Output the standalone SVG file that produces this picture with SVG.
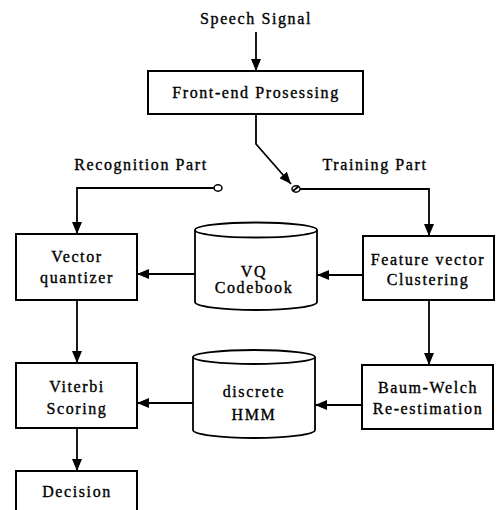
<svg xmlns="http://www.w3.org/2000/svg" width="498" height="510" viewBox="0 0 498 510">
  <defs>
    <marker id="arrow" viewBox="0 0 12 10" refX="12" refY="5" markerWidth="12" markerHeight="10" markerUnits="userSpaceOnUse" orient="auto">
      <path d="M0,0 L12,5 L0,10 Z" fill="#000"/>
    </marker>
    <style>
      .box { fill: #fff; stroke: #000; stroke-width: 2; }
      .cyl { fill: #fff; stroke: #000; stroke-width: 1.8; }
      .lbl { font-family: "Liberation Serif", "Times New Roman", serif; font-size: 16px; letter-spacing: 1.6px; fill: #000; stroke: #000; stroke-width: 0.35px; text-anchor: middle; }
      .wire { fill: none; stroke: #000; stroke-width: 1.8; }
      .arr { fill: none; stroke: #000; stroke-width: 1.8; marker-end: url(#arrow); }
      .sw { fill: #fff; stroke: #000; stroke-width: 1.5; }
    </style>
  </defs>

  <!-- input and branch labels -->
  <text class="lbl" x="256" y="24">Speech Signal</text>
  <text class="lbl" x="141" y="170">Recognition Part</text>
  <text class="lbl" x="375" y="170">Training Part</text>

  <g id="connectors">
    <line class="arr" x1="256" y1="32" x2="256" y2="71"/>
    <polyline class="arr" points="256,114 256,144 291,184"/>
    <!-- recognition branch -->
    <polyline class="arr" points="214,188 77,188 77,234"/>
    <!-- training branch -->
    <polyline class="arr" points="300,189 429,189 429,236"/>
    <line class="arr" x1="363" y1="275" x2="317" y2="275"/>
    <line class="arr" x1="195" y1="274" x2="137" y2="274"/>
    <line class="arr" x1="77" y1="300" x2="77" y2="363"/>
    <line class="arr" x1="429" y1="300" x2="429" y2="365"/>
    <line class="arr" x1="362" y1="405" x2="315" y2="405"/>
    <line class="arr" x1="193" y1="403" x2="137" y2="403"/>
    <line class="arr" x1="77" y1="428" x2="77" y2="471"/>
  </g>

  <!-- switch contacts -->
  <g id="switch-recognition">
    <ellipse class="sw" cx="218" cy="188" rx="4" ry="3.2"/>
  </g>
  <g id="switch-training">
    <ellipse class="sw" cx="296" cy="189" rx="4" ry="3.2"/>
    <line class="wire" x1="293" y1="191" x2="299" y2="186" stroke-width="1.2"/>
  </g>

  <g id="front-end">
    <rect class="box" x="148" y="71" width="215" height="43"/>
    <text class="lbl" x="256" y="98">Front-end Prosessing</text>
  </g>

  <g id="vector-quantizer">
    <rect class="box" x="16" y="234" width="121" height="66"/>
    <text class="lbl" x="77" y="262">Vector</text>
    <text class="lbl" x="77" y="283">quantizer</text>
  </g>

  <g id="vq-codebook">
    <path class="cyl" d="M195,230 L195,302 A61,8 0 0 0 317,302 L317,230 A61,7.5 0 0 0 195,230 Z"/>
    <path class="cyl" d="M195,230 A61,7.5 0 0 0 317,230"/>
    <text class="lbl" x="254" y="277">VQ</text>
    <text class="lbl" x="254" y="293">Codebook</text>
  </g>

  <g id="feature-clustering">
    <rect class="box" x="363" y="236" width="131" height="64"/>
    <text class="lbl" x="428" y="265">Feature vector</text>
    <text class="lbl" x="428" y="285">Clustering</text>
  </g>

  <g id="viterbi">
    <rect class="box" x="16" y="363" width="121" height="65"/>
    <text class="lbl" x="77" y="392">Viterbi</text>
    <text class="lbl" x="77" y="414">Scoring</text>
  </g>

  <g id="discrete-hmm">
    <path class="cyl" d="M193,357 L193,430 A61,8 0 0 0 315,430 L315,357 A61,7 0 0 0 193,357 Z"/>
    <path class="cyl" d="M193,357 A61,7 0 0 0 315,357"/>
    <text class="lbl" x="254" y="397">discrete</text>
    <text class="lbl" x="254" y="420">HMM</text>
  </g>

  <g id="baum-welch">
    <rect class="box" x="362" y="365" width="131" height="64"/>
    <text class="lbl" x="428" y="393">Baum-Welch</text>
    <text class="lbl" x="428" y="414">Re-estimation</text>
  </g>

  <g id="decision">
    <rect class="box" x="16" y="471" width="121" height="50"/>
    <text class="lbl" x="77" y="497">Decision</text>
  </g>
</svg>
